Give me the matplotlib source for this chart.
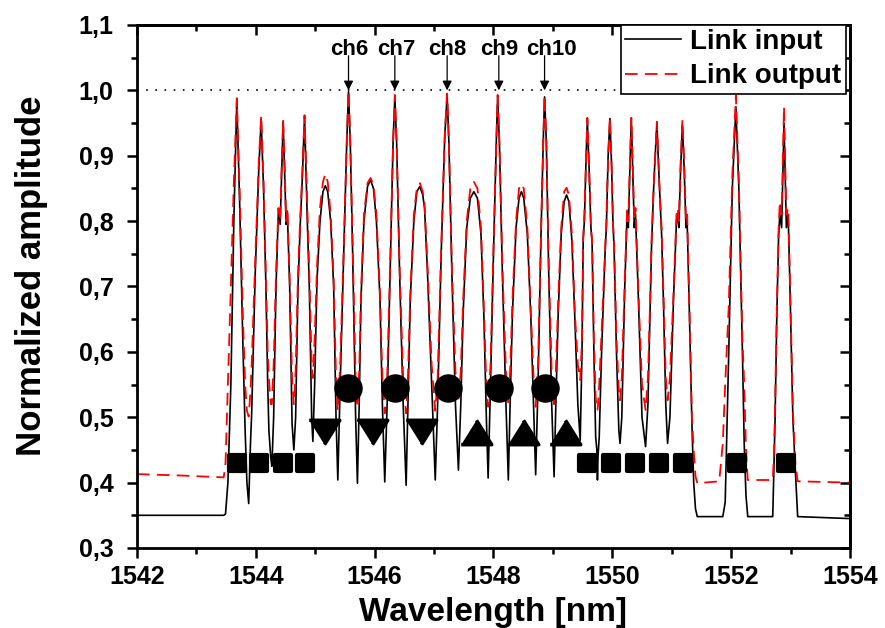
import matplotlib
matplotlib.use("Agg")
import matplotlib.pyplot as plt
from matplotlib.markers import MarkerStyle
from matplotlib.ticker import MultipleLocator

plt.rcParams['font.family'] = ['Liberation Sans', 'DejaVu Sans']
plt.rcParams['font.weight'] = 'bold'

# Spectrum: wavelength [nm], link input, link output
wavelength = [
    1542.00, 1542.70, 1543.46, 1543.49, 1543.53, 1543.58, 1543.63, 1543.68, 1543.73, 1543.78,
    1543.82, 1543.85, 1543.88, 1543.91, 1543.93, 1543.99, 1544.05, 1544.09, 1544.13, 1544.17,
    1544.20, 1544.22, 1544.25, 1544.27, 1544.30, 1544.34, 1544.38, 1544.41, 1544.43, 1544.46,
    1544.49, 1544.51, 1544.53, 1544.57, 1544.61, 1544.64, 1544.67, 1544.71, 1544.75, 1544.78,
    1544.82, 1544.85, 1544.87, 1544.90, 1544.94, 1544.96, 1544.99, 1545.03, 1545.08, 1545.13,
    1545.17, 1545.21, 1545.26, 1545.31, 1545.35, 1545.38, 1545.42, 1545.48, 1545.53, 1545.56,
    1545.59, 1545.63, 1545.68, 1545.71, 1545.74, 1545.77, 1545.82, 1545.88, 1545.93, 1545.98,
    1546.03, 1546.09, 1546.13, 1546.17, 1546.21, 1546.26, 1546.31, 1546.34, 1546.37, 1546.42,
    1546.48, 1546.53, 1546.56, 1546.60, 1546.66, 1546.71, 1546.76, 1546.81, 1546.84, 1546.89,
    1546.96, 1547.02, 1547.06, 1547.12, 1547.18, 1547.22, 1547.25, 1547.30, 1547.36, 1547.41,
    1547.45, 1547.49, 1547.55, 1547.61, 1547.67, 1547.73, 1547.79, 1547.84, 1547.88, 1547.91,
    1547.95, 1548.00, 1548.05, 1548.07, 1548.10, 1548.15, 1548.21, 1548.25, 1548.28, 1548.32,
    1548.38, 1548.43, 1548.47, 1548.51, 1548.57, 1548.63, 1548.68, 1548.71, 1548.75, 1548.80,
    1548.84, 1548.86, 1548.89, 1548.93, 1548.98, 1549.02, 1549.05, 1549.09, 1549.14, 1549.19,
    1549.23, 1549.27, 1549.32, 1549.37, 1549.42, 1549.46, 1549.49, 1549.51, 1549.53, 1549.56,
    1549.58, 1549.61, 1549.64, 1549.66, 1549.69, 1549.72, 1549.74, 1549.75, 1549.76, 1549.78,
    1549.82, 1549.88, 1549.90, 1549.93, 1549.96, 1549.99, 1550.01, 1550.03, 1550.07, 1550.11,
    1550.13, 1550.16, 1550.21, 1550.25, 1550.27, 1550.29, 1550.32, 1550.35, 1550.37, 1550.39,
    1550.44, 1550.50, 1550.56, 1550.60, 1550.64, 1550.66, 1550.70, 1550.75, 1550.79, 1550.83,
    1550.86, 1550.90, 1550.93, 1550.97, 1551.03, 1551.08, 1551.10, 1551.12, 1551.15, 1551.18,
    1551.21, 1551.24, 1551.26, 1551.30, 1551.34, 1551.37, 1551.40, 1551.43, 1551.80, 1551.86,
    1551.90, 1551.96, 1552.02, 1552.08, 1552.13, 1552.19, 1552.22, 1552.25, 1552.28, 1552.70,
    1552.72, 1552.74, 1552.77, 1552.80, 1552.82, 1552.85, 1552.89, 1552.93, 1552.96, 1552.99,
    1553.02, 1553.04, 1553.08, 1553.12, 1554.00,
]
link_input = [
    0.350, 0.350, 0.350, 0.352, 0.400, 0.550, 0.800, 0.985, 0.820, 0.620,
    0.480, 0.400, 0.368, 0.460, 0.505, 0.720, 0.880, 0.955, 0.850, 0.700,
    0.550, 0.480, 0.440, 0.425, 0.500, 0.700, 0.815, 0.795, 0.860, 0.952,
    0.860, 0.795, 0.815, 0.700, 0.490, 0.450, 0.500, 0.700, 0.800, 0.860,
    0.960, 0.860, 0.790, 0.700, 0.500, 0.463, 0.550, 0.710, 0.800, 0.845,
    0.854, 0.845, 0.800, 0.700, 0.500, 0.404, 0.550, 0.750, 0.920, 0.998,
    0.920, 0.750, 0.500, 0.399, 0.520, 0.680, 0.800, 0.853, 0.863, 0.850,
    0.800, 0.680, 0.520, 0.401, 0.520, 0.720, 0.920, 0.990, 0.920, 0.720,
    0.520, 0.396, 0.520, 0.680, 0.800, 0.845, 0.853, 0.840, 0.820, 0.720,
    0.550, 0.404, 0.520, 0.750, 0.930, 0.993, 0.920, 0.720, 0.520, 0.419,
    0.520, 0.660, 0.790, 0.835, 0.845, 0.835, 0.780, 0.650, 0.500, 0.407,
    0.550, 0.750, 0.930, 0.990, 0.920, 0.720, 0.520, 0.404, 0.520, 0.660,
    0.790, 0.835, 0.845, 0.835, 0.780, 0.650, 0.500, 0.412, 0.550, 0.780,
    0.930, 0.990, 0.920, 0.720, 0.520, 0.409, 0.520, 0.660, 0.780, 0.830,
    0.840, 0.830, 0.770, 0.650, 0.520, 0.465, 0.600, 0.771, 0.800, 0.900,
    0.955, 0.880, 0.790, 0.767, 0.600, 0.470, 0.450, 0.404, 0.440, 0.470,
    0.600, 0.756, 0.790, 0.900, 0.957, 0.880, 0.800, 0.760, 0.600, 0.480,
    0.460, 0.500, 0.700, 0.814, 0.790, 0.860, 0.957, 0.860, 0.790, 0.812,
    0.680, 0.500, 0.455, 0.520, 0.680, 0.760, 0.860, 0.950, 0.860, 0.780,
    0.680, 0.520, 0.460, 0.500, 0.680, 0.800, 0.810, 0.790, 0.880, 0.947,
    0.880, 0.790, 0.800, 0.650, 0.490, 0.400, 0.360, 0.348, 0.348, 0.348,
    0.370, 0.600, 0.850, 0.975, 0.850, 0.600, 0.460, 0.380, 0.348, 0.348,
    0.420, 0.500, 0.660, 0.780, 0.810, 0.790, 0.950, 0.790, 0.810, 0.700,
    0.580, 0.496, 0.420, 0.348, 0.345,
]
link_output = [
    0.413, 0.411, 0.408, 0.430, 0.550, 0.700, 0.860, 0.988, 0.840, 0.660,
    0.550, 0.510, 0.501, 0.540, 0.580, 0.740, 0.890, 0.962, 0.860, 0.710,
    0.600, 0.560, 0.520, 0.520, 0.580, 0.720, 0.820, 0.800, 0.870, 0.955,
    0.870, 0.800, 0.820, 0.710, 0.560, 0.520, 0.570, 0.720, 0.810, 0.870,
    0.962, 0.870, 0.810, 0.720, 0.580, 0.560, 0.620, 0.730, 0.820, 0.860,
    0.872, 0.860, 0.810, 0.710, 0.560, 0.510, 0.580, 0.760, 0.920, 1.000,
    0.920, 0.760, 0.560, 0.515, 0.570, 0.690, 0.810, 0.858, 0.866, 0.856,
    0.810, 0.690, 0.560, 0.506, 0.560, 0.730, 0.920, 0.993, 0.920, 0.730,
    0.560, 0.506, 0.560, 0.690, 0.810, 0.850, 0.858, 0.845, 0.825, 0.730,
    0.580, 0.510, 0.560, 0.760, 0.930, 0.995, 0.920, 0.730, 0.570, 0.526,
    0.570, 0.680, 0.800, 0.850, 0.860, 0.850, 0.790, 0.660, 0.550, 0.516,
    0.580, 0.760, 0.930, 0.993, 0.920, 0.730, 0.570, 0.520, 0.570, 0.680,
    0.800, 0.850, 0.857, 0.850, 0.790, 0.660, 0.550, 0.516, 0.580, 0.780,
    0.930, 0.993, 0.920, 0.730, 0.570, 0.520, 0.570, 0.680, 0.790, 0.845,
    0.851, 0.840, 0.780, 0.660, 0.580, 0.557, 0.620, 0.775, 0.810, 0.900,
    0.958, 0.880, 0.790, 0.770, 0.620, 0.530, 0.511, 0.511, 0.520, 0.550,
    0.630, 0.760, 0.800, 0.900, 0.959, 0.880, 0.800, 0.765, 0.620, 0.540,
    0.526, 0.560, 0.710, 0.820, 0.800, 0.870, 0.958, 0.870, 0.800, 0.820,
    0.690, 0.550, 0.511, 0.560, 0.690, 0.770, 0.860, 0.952, 0.860, 0.790,
    0.690, 0.560, 0.526, 0.560, 0.690, 0.810, 0.820, 0.800, 0.890, 0.955,
    0.890, 0.800, 0.810, 0.660, 0.500, 0.450, 0.410, 0.399, 0.402, 0.460,
    0.550, 0.670, 0.870, 0.992, 0.860, 0.620, 0.550, 0.450, 0.404, 0.404,
    0.440, 0.520, 0.670, 0.790, 0.830, 0.810, 0.975, 0.810, 0.820, 0.710,
    0.590, 0.510, 0.430, 0.402, 0.400,
]

# Channel markers
square_x = [1543.68, 1544.06, 1544.46, 1544.83, 1549.57, 1549.97, 1550.38, 1550.78, 1551.19, 1552.10, 1552.92]
square_y = [0.43] * 11
circle_x = [1545.55, 1546.35, 1547.24, 1548.09, 1548.87]
circle_y = [0.545] * 5
down_x = [1545.15, 1545.95, 1546.78]
down_y = [0.478] * 3
up_x = [1547.71, 1548.50, 1549.21]
up_y = [0.478] * 3

# Channel labels
ch_labels = ["ch6", "ch7", "ch8", "ch9", "ch10"]
ch_arrow_x = [1545.56, 1546.34, 1547.22, 1548.09, 1548.86]
ch_text_x = [1545.57, 1546.37, 1547.23, 1548.09, 1548.97]

xticks = [1542, 1544, 1546, 1548, 1550, 1552, 1554]
yticks = [0.3, 0.4, 0.5, 0.6, 0.7, 0.8, 0.9, 1.0, 1.1]
ytick_labels = ["0,3", "0,4", "0,5", "0,6", "0,7", "0,8", "0,9", "1,0", "1,1"]

fig = plt.figure(figsize=(8.85, 6.28), dpi=100)
ax = fig.add_axes([0.1548, 0.1274, 0.8056, 0.8328])

ax.axhline(1.0, color='black', lw=1.2, ls=(0, (1, 4.5)), zorder=1)
ax.plot(wavelength, link_input, color='black', lw=1.2, label='Link input', zorder=2)
ax.plot(wavelength, link_output, color='#ff0000', lw=1.3, ls=(0, (7, 4)), label='Link output', zorder=2)

sq = MarkerStyle('s', joinstyle='round')
ax.plot(square_x, square_y, ls='none', marker=sq, ms=12, mfc='black', mec='black', mew=3, zorder=4)
ax.plot(circle_x, circle_y, ls='none', marker='o', ms=19.5, color='black', zorder=4)
tri_down = MarkerStyle([(-1, 0.8), (1, 0.8), (0, -0.8)], joinstyle='round')
tri_up = MarkerStyle([(-1, -0.8), (1, -0.8), (0, 0.8)], joinstyle='round')
ax.plot(down_x, down_y, ls='none', marker=tri_down, ms=22, mfc='black', mec='black', mew=2.5, zorder=4)
ax.plot(up_x, up_y, ls='none', marker=tri_up, ms=22, mfc='black', mec='black', mew=2.5, zorder=4)

for lab, xa, xt in zip(ch_labels, ch_arrow_x, ch_text_x):
    ax.text(xt, 1.063, lab, ha='center', va='center', fontsize=16, fontweight='bold')
    ax.annotate('', xy=(xa, 1.0), xytext=(xa, 1.053),
                arrowprops=dict(arrowstyle='-|>', color='black', lw=0.9, mutation_scale=14,
                                shrinkA=0, shrinkB=0))

ax.set_xlim(1542, 1554)
ax.set_ylim(0.3, 1.1)
ax.set_xticks(xticks)
ax.set_xticklabels([str(t) for t in xticks])
ax.set_yticks(yticks)
ax.set_yticklabels(ytick_labels)
ax.xaxis.set_minor_locator(MultipleLocator(1))
ax.yaxis.set_minor_locator(MultipleLocator(0.05))
ax.tick_params(which='major', direction='out', length=7, width=1.8, labelsize=18)
ax.tick_params(which='minor', direction='out', length=4, width=1.8)
ax.tick_params(axis='x', pad=5)
ax.tick_params(axis='y', pad=10)
for lbl in ax.get_xticklabels() + ax.get_yticklabels():
    lbl.set_fontweight('bold')
for sp in ax.spines.values():
    sp.set_linewidth(2.0)

# mirrored ticks pointing inward on top and right
top = ax.secondary_xaxis('top')
top.set_xticks(xticks)
top.xaxis.set_minor_locator(MultipleLocator(1))
top.tick_params(which='major', direction='in', length=7, width=1.8, labeltop=False)
top.tick_params(which='minor', direction='in', length=4, width=1.8)
top.spines['top'].set_linewidth(2.0)
right = ax.secondary_yaxis('right')
right.set_yticks(yticks)
right.yaxis.set_minor_locator(MultipleLocator(0.05))
right.tick_params(which='major', direction='in', length=7, width=1.8, labelright=False)
right.tick_params(which='minor', direction='in', length=4, width=1.8)
right.spines['right'].set_linewidth(2.0)

ax.set_xlabel('Wavelength [nm]', fontsize=24, fontweight='bold', labelpad=6)
ax.set_ylabel('Normalized amplitude', fontsize=25, fontweight='bold', labelpad=22)
ax.yaxis.label.set_y(0.52)

leg = ax.legend(loc='upper right', bbox_to_anchor=(0.994, 1.0), borderaxespad=0,
                prop={'weight': 'bold', 'size': 20}, handlelength=2.0,
                handletextpad=0.35, borderpad=0.15, labelspacing=0.3, fancybox=False,
                framealpha=1, edgecolor='black')
leg.get_frame().set_linewidth(1.2)
leg.set_zorder(5)

fig.savefig('out.png', dpi=100)
